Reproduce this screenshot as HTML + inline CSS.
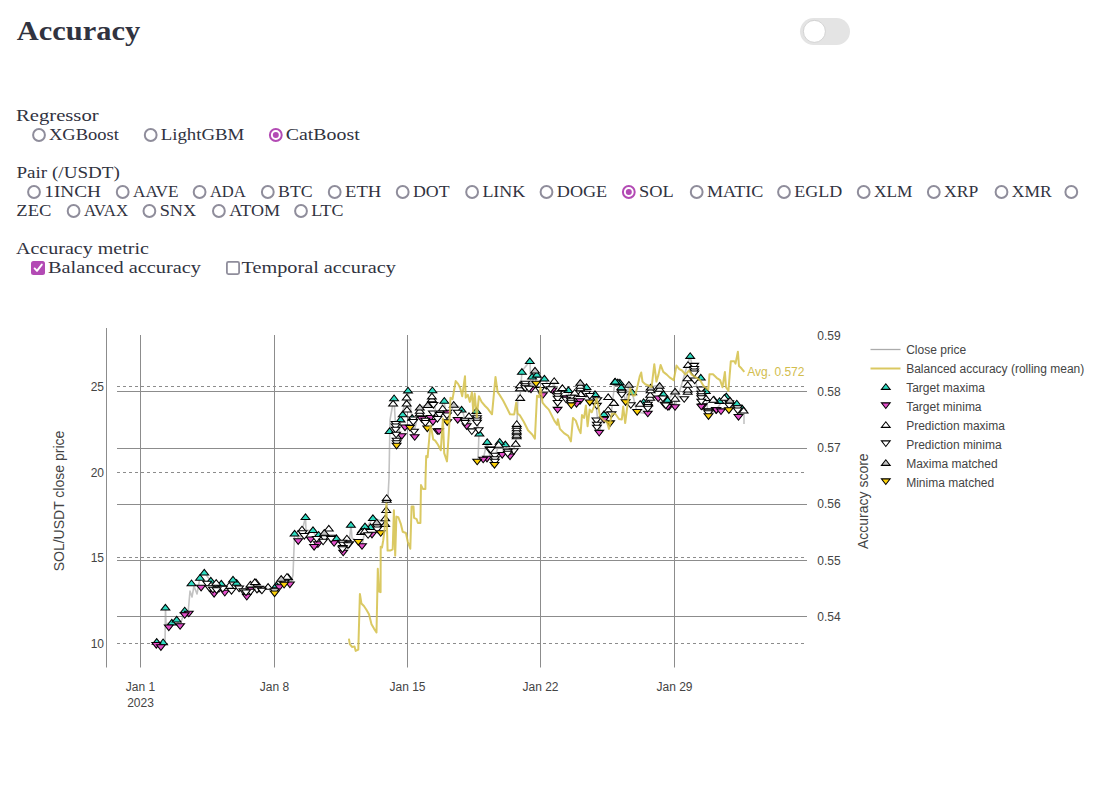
<!DOCTYPE html>
<html><head><meta charset="utf-8"><title>Accuracy</title>
<style>html,body{margin:0;padding:0;background:#fff;width:1101px;height:794px;overflow:hidden}svg{display:block}</style>
</head><body>
<svg width="1101" height="794" viewBox="0 0 1101 794">
<rect width="1101" height="794" fill="#fff"/>
<text x="16.8" y="40.4" font-family='"Liberation Serif", serif' font-size="27" font-weight="bold" fill="rgb(49,51,63)" textLength="123.30" lengthAdjust="spacingAndGlyphs">Accuracy</text>
<rect x="800" y="18" width="50" height="27" rx="13.5" fill="#e4e4e4"/>
<circle cx="814.4" cy="31.4" r="11" fill="#fff" stroke="#c9c9c9" stroke-width="0.8"/>
<text x="16" y="120.7" font-family='"Liberation Serif", serif' font-size="17" font-weight="normal" fill="rgb(49,51,63)" textLength="82.58" lengthAdjust="spacingAndGlyphs">Regressor</text>
<circle cx="39" cy="135" r="5.9" fill="#fff" stroke="#8f8d9b" stroke-width="2"/>
<text x="49" y="139.6" font-family='"Liberation Serif", serif' font-size="17" font-weight="normal" fill="rgb(49,51,63)" textLength="69.84" lengthAdjust="spacingAndGlyphs">XGBoost</text>
<circle cx="150.7" cy="135" r="5.9" fill="#fff" stroke="#8f8d9b" stroke-width="2"/>
<text x="160.7" y="139.6" font-family='"Liberation Serif", serif' font-size="17" font-weight="normal" fill="rgb(49,51,63)" textLength="83.64" lengthAdjust="spacingAndGlyphs">LightGBM</text>
<circle cx="275.8" cy="135" r="5.9" fill="#fff" stroke="#b34ab4" stroke-width="2"/>
<circle cx="275.8" cy="135" r="3" fill="#b34ab4"/>
<text x="285.8" y="139.6" font-family='"Liberation Serif", serif' font-size="17" font-weight="normal" fill="rgb(49,51,63)" textLength="73.88" lengthAdjust="spacingAndGlyphs">CatBoost</text>
<text x="16.5" y="177.7" font-family='"Liberation Serif", serif' font-size="17" font-weight="normal" fill="rgb(49,51,63)" textLength="103.27" lengthAdjust="spacingAndGlyphs">Pair (/USDT)</text>
<circle cx="34" cy="192" r="5.9" fill="#fff" stroke="#8f8d9b" stroke-width="2"/>
<text x="44.3" y="196.9" font-family='"Liberation Serif", serif' font-size="17" font-weight="normal" fill="rgb(49,51,63)" textLength="56.70" lengthAdjust="spacingAndGlyphs">1INCH</text>
<circle cx="122.7" cy="192" r="5.9" fill="#fff" stroke="#8f8d9b" stroke-width="2"/>
<text x="133.0" y="196.9" font-family='"Liberation Serif", serif' font-size="17" font-weight="normal" fill="rgb(49,51,63)" textLength="45.55" lengthAdjust="spacingAndGlyphs">AAVE</text>
<circle cx="199.6" cy="192" r="5.9" fill="#fff" stroke="#8f8d9b" stroke-width="2"/>
<text x="209.9" y="196.9" font-family='"Liberation Serif", serif' font-size="17" font-weight="normal" fill="rgb(49,51,63)" textLength="35.94" lengthAdjust="spacingAndGlyphs">ADA</text>
<circle cx="267.8" cy="192" r="5.9" fill="#fff" stroke="#8f8d9b" stroke-width="2"/>
<text x="278.1" y="196.9" font-family='"Liberation Serif", serif' font-size="17" font-weight="normal" fill="rgb(49,51,63)" textLength="34.67" lengthAdjust="spacingAndGlyphs">BTC</text>
<circle cx="334.7" cy="192" r="5.9" fill="#fff" stroke="#8f8d9b" stroke-width="2"/>
<text x="345.0" y="196.9" font-family='"Liberation Serif", serif' font-size="17" font-weight="normal" fill="rgb(49,51,63)" textLength="36.31" lengthAdjust="spacingAndGlyphs">ETH</text>
<circle cx="402.7" cy="192" r="5.9" fill="#fff" stroke="#8f8d9b" stroke-width="2"/>
<text x="413.0" y="196.9" font-family='"Liberation Serif", serif' font-size="17" font-weight="normal" fill="rgb(49,51,63)" textLength="36.62" lengthAdjust="spacingAndGlyphs">DOT</text>
<circle cx="472.1" cy="192" r="5.9" fill="#fff" stroke="#8f8d9b" stroke-width="2"/>
<text x="482.40000000000003" y="196.9" font-family='"Liberation Serif", serif' font-size="17" font-weight="normal" fill="rgb(49,51,63)" textLength="42.91" lengthAdjust="spacingAndGlyphs">LINK</text>
<circle cx="546.5" cy="192" r="5.9" fill="#fff" stroke="#8f8d9b" stroke-width="2"/>
<text x="556.8" y="196.9" font-family='"Liberation Serif", serif' font-size="17" font-weight="normal" fill="rgb(49,51,63)" textLength="50.41" lengthAdjust="spacingAndGlyphs">DOGE</text>
<circle cx="628.8" cy="192" r="5.9" fill="#fff" stroke="#b34ab4" stroke-width="2"/>
<circle cx="628.8" cy="192" r="3" fill="#b34ab4"/>
<text x="639.0999999999999" y="196.9" font-family='"Liberation Serif", serif' font-size="17" font-weight="normal" fill="rgb(49,51,63)" textLength="34.70" lengthAdjust="spacingAndGlyphs">SOL</text>
<circle cx="696.7" cy="192" r="5.9" fill="#fff" stroke="#8f8d9b" stroke-width="2"/>
<text x="707.0" y="196.9" font-family='"Liberation Serif", serif' font-size="17" font-weight="normal" fill="rgb(49,51,63)" textLength="56.30" lengthAdjust="spacingAndGlyphs">MATIC</text>
<circle cx="784" cy="192" r="5.9" fill="#fff" stroke="#8f8d9b" stroke-width="2"/>
<text x="794.3" y="196.9" font-family='"Liberation Serif", serif' font-size="17" font-weight="normal" fill="rgb(49,51,63)" textLength="47.92" lengthAdjust="spacingAndGlyphs">EGLD</text>
<circle cx="863.7" cy="192" r="5.9" fill="#fff" stroke="#8f8d9b" stroke-width="2"/>
<text x="874.0" y="196.9" font-family='"Liberation Serif", serif' font-size="17" font-weight="normal" fill="rgb(49,51,63)" textLength="38.41" lengthAdjust="spacingAndGlyphs">XLM</text>
<circle cx="933.8" cy="192" r="5.9" fill="#fff" stroke="#8f8d9b" stroke-width="2"/>
<text x="944.0999999999999" y="196.9" font-family='"Liberation Serif", serif' font-size="17" font-weight="normal" fill="rgb(49,51,63)" textLength="34.20" lengthAdjust="spacingAndGlyphs">XRP</text>
<circle cx="1001.5" cy="192" r="5.9" fill="#fff" stroke="#8f8d9b" stroke-width="2"/>
<text x="1011.8" y="196.9" font-family='"Liberation Serif", serif' font-size="17" font-weight="normal" fill="rgb(49,51,63)" textLength="39.83" lengthAdjust="spacingAndGlyphs">XMR</text>
<circle cx="1071.3" cy="192" r="5.9" fill="#fff" stroke="#8f8d9b" stroke-width="2"/>
<text x="16.3" y="215.7" font-family='"Liberation Serif", serif' font-size="17" font-weight="normal" fill="rgb(49,51,63)" textLength="35.05" lengthAdjust="spacingAndGlyphs">ZEC</text>
<circle cx="73.6" cy="211" r="5.9" fill="#fff" stroke="#8f8d9b" stroke-width="2"/>
<text x="83.89999999999999" y="215.7" font-family='"Liberation Serif", serif' font-size="17" font-weight="normal" fill="rgb(49,51,63)" textLength="44.17" lengthAdjust="spacingAndGlyphs">AVAX</text>
<circle cx="149.4" cy="211" r="5.9" fill="#fff" stroke="#8f8d9b" stroke-width="2"/>
<text x="159.70000000000002" y="215.7" font-family='"Liberation Serif", serif' font-size="17" font-weight="normal" fill="rgb(49,51,63)" textLength="36.36" lengthAdjust="spacingAndGlyphs">SNX</text>
<circle cx="218.9" cy="211" r="5.9" fill="#fff" stroke="#8f8d9b" stroke-width="2"/>
<text x="229.20000000000002" y="215.7" font-family='"Liberation Serif", serif' font-size="17" font-weight="normal" fill="rgb(49,51,63)" textLength="50.86" lengthAdjust="spacingAndGlyphs">ATOM</text>
<circle cx="301" cy="211" r="5.9" fill="#fff" stroke="#8f8d9b" stroke-width="2"/>
<text x="311.3" y="215.7" font-family='"Liberation Serif", serif' font-size="17" font-weight="normal" fill="rgb(49,51,63)" textLength="32.23" lengthAdjust="spacingAndGlyphs">LTC</text>
<text x="16" y="253.9" font-family='"Liberation Serif", serif' font-size="17" font-weight="normal" fill="rgb(49,51,63)" textLength="132.86" lengthAdjust="spacingAndGlyphs">Accuracy metric</text>
<rect x="31" y="261" width="14" height="14" rx="2.5" fill="#b34ab4"/>
<path d="M34.6,268.4 L37,270.9 L41.8,264.6" fill="none" stroke="#fff" stroke-width="1.9" stroke-linecap="round" stroke-linejoin="round"/>
<text x="48" y="272.7" font-family='"Liberation Serif", serif' font-size="17" font-weight="normal" fill="rgb(49,51,63)" textLength="152.97" lengthAdjust="spacingAndGlyphs">Balanced accuracy</text>
<rect x="226.9" y="261.9" width="12.2" height="12.2" rx="1.5" fill="#fff" stroke="#8f8d9b" stroke-width="1.8"/>
<text x="241.5" y="272.7" font-family='"Liberation Serif", serif' font-size="17" font-weight="normal" fill="rgb(49,51,63)" textLength="154.30" lengthAdjust="spacingAndGlyphs">Temporal accuracy</text>
<g shape-rendering="auto">
<line x1="117" y1="391.5" x2="807" y2="391.5" stroke="#8c8c8c" stroke-width="1"/>
<line x1="117" y1="448.5" x2="807" y2="448.5" stroke="#8c8c8c" stroke-width="1"/>
<line x1="117" y1="504.5" x2="807" y2="504.5" stroke="#8c8c8c" stroke-width="1"/>
<line x1="117" y1="560.5" x2="807" y2="560.5" stroke="#8c8c8c" stroke-width="1"/>
<line x1="117" y1="616.5" x2="807" y2="616.5" stroke="#8c8c8c" stroke-width="1"/>
<line x1="117" y1="386.5" x2="807" y2="386.5" stroke="#8c8c8c" stroke-width="1" stroke-dasharray="3,3"/>
<line x1="117" y1="472.5" x2="807" y2="472.5" stroke="#8c8c8c" stroke-width="1" stroke-dasharray="3,3"/>
<line x1="117" y1="557.5" x2="807" y2="557.5" stroke="#8c8c8c" stroke-width="1" stroke-dasharray="3,3"/>
<line x1="117" y1="643.5" x2="807" y2="643.5" stroke="#8c8c8c" stroke-width="1" stroke-dasharray="3,3"/>
<line x1="140.5" y1="335" x2="140.5" y2="667.5" stroke="#8c8c8c" stroke-width="1"/>
<line x1="274.5" y1="335" x2="274.5" y2="667.5" stroke="#8c8c8c" stroke-width="1"/>
<line x1="407.5" y1="335" x2="407.5" y2="667.5" stroke="#8c8c8c" stroke-width="1"/>
<line x1="540.5" y1="335" x2="540.5" y2="667.5" stroke="#8c8c8c" stroke-width="1"/>
<line x1="674.5" y1="335" x2="674.5" y2="667.5" stroke="#8c8c8c" stroke-width="1"/>
<line x1="106.5" y1="328" x2="106.5" y2="667.5" stroke="#8c8c8c" stroke-width="1"/>
<text x="104" y="390.8" font-family='"Liberation Sans", sans-serif' font-size="12" fill="#444" text-anchor="end">25</text>
<text x="104" y="476.8" font-family='"Liberation Sans", sans-serif' font-size="12" fill="#444" text-anchor="end">20</text>
<text x="104" y="561.8" font-family='"Liberation Sans", sans-serif' font-size="12" fill="#444" text-anchor="end">15</text>
<text x="104" y="647.8" font-family='"Liberation Sans", sans-serif' font-size="12" fill="#444" text-anchor="end">10</text>
<text x="817.3" y="339.5" font-family='"Liberation Sans", sans-serif' font-size="12" fill="#444" text-anchor="start">0.59</text>
<text x="817.3" y="395.7" font-family='"Liberation Sans", sans-serif' font-size="12" fill="#444" text-anchor="start">0.58</text>
<text x="817.3" y="452.0" font-family='"Liberation Sans", sans-serif' font-size="12" fill="#444" text-anchor="start">0.57</text>
<text x="817.3" y="508.2" font-family='"Liberation Sans", sans-serif' font-size="12" fill="#444" text-anchor="start">0.56</text>
<text x="817.3" y="564.5" font-family='"Liberation Sans", sans-serif' font-size="12" fill="#444" text-anchor="start">0.55</text>
<text x="817.3" y="620.7" font-family='"Liberation Sans", sans-serif' font-size="12" fill="#444" text-anchor="start">0.54</text>
<text x="140.5" y="691.2" font-family='"Liberation Sans", sans-serif' font-size="12" fill="#444" text-anchor="middle">Jan 1</text>
<text x="274.5" y="691.2" font-family='"Liberation Sans", sans-serif' font-size="12" fill="#444" text-anchor="middle">Jan 8</text>
<text x="407.5" y="691.2" font-family='"Liberation Sans", sans-serif' font-size="12" fill="#444" text-anchor="middle">Jan 15</text>
<text x="540.5" y="691.2" font-family='"Liberation Sans", sans-serif' font-size="12" fill="#444" text-anchor="middle">Jan 22</text>
<text x="674.5" y="691.2" font-family='"Liberation Sans", sans-serif' font-size="12" fill="#444" text-anchor="middle">Jan 29</text>
<text x="140.5" y="706.9" font-family='"Liberation Sans", sans-serif' font-size="12" fill="#444" text-anchor="middle">2023</text>
<text transform="translate(64.2,501) rotate(-90)" font-family='"Liberation Sans", sans-serif' font-size="14" fill="#444" text-anchor="middle">SOL/USDT close price</text>
<text transform="translate(868,501.2) rotate(-90)" font-family='"Liberation Sans", sans-serif' font-size="14" fill="#444" text-anchor="middle">Accuracy score</text>
<line x1="870.5" y1="349.5" x2="900.5" y2="349.5" stroke="#ababab" stroke-width="1.3"/>
<line x1="870.5" y1="368.5" x2="900.5" y2="368.5" stroke="#dac861" stroke-width="2"/>
<text x="906.2" y="353.8" font-family='"Liberation Sans", sans-serif' font-size="12" fill="#444" text-anchor="start">Close price</text>
<text x="906.2" y="372.8" font-family='"Liberation Sans", sans-serif' font-size="12" fill="#444" text-anchor="start">Balanced accuracy (rolling mean)</text>
<text x="906.2" y="391.8" font-family='"Liberation Sans", sans-serif' font-size="12" fill="#444" text-anchor="start">Target maxima</text>
<text x="906.2" y="410.8" font-family='"Liberation Sans", sans-serif' font-size="12" fill="#444" text-anchor="start">Target minima</text>
<text x="906.2" y="429.8" font-family='"Liberation Sans", sans-serif' font-size="12" fill="#444" text-anchor="start">Prediction maxima</text>
<text x="906.2" y="448.8" font-family='"Liberation Sans", sans-serif' font-size="12" fill="#444" text-anchor="start">Prediction minima</text>
<text x="906.2" y="467.8" font-family='"Liberation Sans", sans-serif' font-size="12" fill="#444" text-anchor="start">Maxima matched</text>
<text x="906.2" y="486.8" font-family='"Liberation Sans", sans-serif' font-size="12" fill="#444" text-anchor="start">Minima matched</text>
<path transform="translate(885.8,386.6)" d="M-4.4,2.75H4.4L0,-2.85Z" fill="#2edcc2" stroke="#000" stroke-width="1.05"/>
<path transform="translate(885.8,405.6)" d="M-4.4,-2.75H4.4L0,2.85Z" fill="#e54fcb" stroke="#000" stroke-width="1.05"/>
<path transform="translate(885.8,424.6)" d="M-4.4,2.75H4.4L0,-2.85Z" fill="#fff" stroke="#000" stroke-width="1.05"/>
<path transform="translate(885.8,443.6)" d="M-4.4,-2.75H4.4L0,2.85Z" fill="#fff" stroke="#000" stroke-width="1.05"/>
<path transform="translate(885.8,462.6)" d="M-4.4,2.75H4.4L0,-2.85Z" fill="#c4c4c4" stroke="#000" stroke-width="1.05"/>
<path transform="translate(885.8,481.6)" d="M-4.4,-2.75H4.4L0,2.85Z" fill="#fcd10a" stroke="#000" stroke-width="1.05"/>
<polyline points="155,643 165,643 165.5,608 166,624 172,622 176,620 180,625 184.5,612 188,614 190,591 192,597 194,586 197,594 199,583 200,577 204,572 210,580 216,585 222,589 232,582 239,588 247,594 255,584 262,590 268,586 275,591 281,580 287,578 291,583 293,575 294.6,533 300,540 305.5,517 306,530 313,531 318,540 324,533 330,537 337,540 343,546 349,544 351,525 352,538 358,542 362,546 365,530 373,518 385,522 388,497 389,478 390,420 393,403 394,398 396,435 397,446 401,419 408,390 414,432 420,407 428,405 432,390 437,420 444,400 447,422 454,404 462,409 467,427 476,411 479,433 478,460 483,460 487,442 492,466 500,441 505,444 510,457 516,443 517,424 518,395 520,397 522,371 530,361 531,390 535,370 536,384 544,378 552,391 554,381 557,410 562,388 568,390 571,406 580,382 586,387 590,403 595,394 599,433 604,414 610,424 615,381 620,382 626,402 629,384 632,392 637,412 648,414 650,387 660,385 663,394 668,400 675,391 675,407 690,356 694,373 701,407 706,391 708,416 716,410 726,396 729,411 737,403 738,417 744,410 744,424" fill="none" stroke="#9a9a9a" stroke-opacity="0.6" stroke-width="1.6" stroke-linejoin="round"/>
<path transform="translate(163.1,641.9)" d="M-4.4,2.75H4.4L0,-2.85Z" fill="#2edcc2" stroke="#000" stroke-width="1.05"/>
<path transform="translate(156.7,641.5)" d="M-4.4,2.75H4.4L0,-2.85Z" fill="#2edcc2" stroke="#000" stroke-width="1.05"/>
<path transform="translate(171.8,622.2)" d="M-4.4,2.75H4.4L0,-2.85Z" fill="#2edcc2" stroke="#000" stroke-width="1.05"/>
<path transform="translate(176.7,619.3)" d="M-4.4,2.75H4.4L0,-2.85Z" fill="#2edcc2" stroke="#000" stroke-width="1.05"/>
<path transform="translate(184.7,610.1)" d="M-4.4,2.75H4.4L0,-2.85Z" fill="#2edcc2" stroke="#000" stroke-width="1.05"/>
<path transform="translate(165.4,607.2)" d="M-4.4,2.75H4.4L0,-2.85Z" fill="#2edcc2" stroke="#000" stroke-width="1.05"/>
<path transform="translate(276.4,585)" d="M-4.4,2.75H4.4L0,-2.85Z" fill="#2edcc2" stroke="#000" stroke-width="1.05"/>
<path transform="translate(221.3,583.3)" d="M-4.4,2.75H4.4L0,-2.85Z" fill="#2edcc2" stroke="#000" stroke-width="1.05"/>
<path transform="translate(191.5,582.9)" d="M-4.4,2.75H4.4L0,-2.85Z" fill="#2edcc2" stroke="#000" stroke-width="1.05"/>
<path transform="translate(236.6,582.5)" d="M-4.4,2.75H4.4L0,-2.85Z" fill="#2edcc2" stroke="#000" stroke-width="1.05"/>
<path transform="translate(210.8,580.3)" d="M-4.4,2.75H4.4L0,-2.85Z" fill="#2edcc2" stroke="#000" stroke-width="1.05"/>
<path transform="translate(233,579.3)" d="M-4.4,2.75H4.4L0,-2.85Z" fill="#2edcc2" stroke="#000" stroke-width="1.05"/>
<path transform="translate(200,577.4)" d="M-4.4,2.75H4.4L0,-2.85Z" fill="#2edcc2" stroke="#000" stroke-width="1.05"/>
<path transform="translate(288.2,577)" d="M-4.4,2.75H4.4L0,-2.85Z" fill="#2edcc2" stroke="#000" stroke-width="1.05"/>
<path transform="translate(204.3,572.2)" d="M-4.4,2.75H4.4L0,-2.85Z" fill="#2edcc2" stroke="#000" stroke-width="1.05"/>
<path transform="translate(336.4,537.8)" d="M-4.4,2.75H4.4L0,-2.85Z" fill="#2edcc2" stroke="#000" stroke-width="1.05"/>
<path transform="translate(318.6,534.4)" d="M-4.4,2.75H4.4L0,-2.85Z" fill="#2edcc2" stroke="#000" stroke-width="1.05"/>
<path transform="translate(294.6,533.2)" d="M-4.4,2.75H4.4L0,-2.85Z" fill="#2edcc2" stroke="#000" stroke-width="1.05"/>
<path transform="translate(362,530)" d="M-4.4,2.75H4.4L0,-2.85Z" fill="#2edcc2" stroke="#000" stroke-width="1.05"/>
<path transform="translate(313,529.8)" d="M-4.4,2.75H4.4L0,-2.85Z" fill="#2edcc2" stroke="#000" stroke-width="1.05"/>
<path transform="translate(370.6,526.8)" d="M-4.4,2.75H4.4L0,-2.85Z" fill="#2edcc2" stroke="#000" stroke-width="1.05"/>
<path transform="translate(365,526)" d="M-4.4,2.75H4.4L0,-2.85Z" fill="#2edcc2" stroke="#000" stroke-width="1.05"/>
<path transform="translate(350.9,524.5)" d="M-4.4,2.75H4.4L0,-2.85Z" fill="#2edcc2" stroke="#000" stroke-width="1.05"/>
<path transform="translate(372.9,517.8)" d="M-4.4,2.75H4.4L0,-2.85Z" fill="#2edcc2" stroke="#000" stroke-width="1.05"/>
<path transform="translate(305.5,516.8)" d="M-4.4,2.75H4.4L0,-2.85Z" fill="#2edcc2" stroke="#000" stroke-width="1.05"/>
<path transform="translate(505.3,444)" d="M-4.4,2.75H4.4L0,-2.85Z" fill="#2edcc2" stroke="#000" stroke-width="1.05"/>
<path transform="translate(487.2,441.6)" d="M-4.4,2.75H4.4L0,-2.85Z" fill="#2edcc2" stroke="#000" stroke-width="1.05"/>
<path transform="translate(499.7,441.4)" d="M-4.4,2.75H4.4L0,-2.85Z" fill="#2edcc2" stroke="#000" stroke-width="1.05"/>
<path transform="translate(479.4,433.3)" d="M-4.4,2.75H4.4L0,-2.85Z" fill="#2edcc2" stroke="#000" stroke-width="1.05"/>
<path transform="translate(389.6,430.7)" d="M-4.4,2.75H4.4L0,-2.85Z" fill="#2edcc2" stroke="#000" stroke-width="1.05"/>
<path transform="translate(400.6,419.1)" d="M-4.4,2.75H4.4L0,-2.85Z" fill="#2edcc2" stroke="#000" stroke-width="1.05"/>
<path transform="translate(412.2,417.5)" d="M-4.4,2.75H4.4L0,-2.85Z" fill="#2edcc2" stroke="#000" stroke-width="1.05"/>
<path transform="translate(402.7,414)" d="M-4.4,2.75H4.4L0,-2.85Z" fill="#2edcc2" stroke="#000" stroke-width="1.05"/>
<path transform="translate(604,413.7)" d="M-4.4,2.75H4.4L0,-2.85Z" fill="#2edcc2" stroke="#000" stroke-width="1.05"/>
<path transform="translate(476.4,410.6)" d="M-4.4,2.75H4.4L0,-2.85Z" fill="#2edcc2" stroke="#000" stroke-width="1.05"/>
<path transform="translate(461.6,409.3)" d="M-4.4,2.75H4.4L0,-2.85Z" fill="#2edcc2" stroke="#000" stroke-width="1.05"/>
<path transform="translate(741.9,407.7)" d="M-4.4,2.75H4.4L0,-2.85Z" fill="#2edcc2" stroke="#000" stroke-width="1.05"/>
<path transform="translate(736.8,403.1)" d="M-4.4,2.75H4.4L0,-2.85Z" fill="#2edcc2" stroke="#000" stroke-width="1.05"/>
<path transform="translate(643.6,401.6)" d="M-4.4,2.75H4.4L0,-2.85Z" fill="#2edcc2" stroke="#000" stroke-width="1.05"/>
<path transform="translate(719.5,400.6)" d="M-4.4,2.75H4.4L0,-2.85Z" fill="#2edcc2" stroke="#000" stroke-width="1.05"/>
<path transform="translate(444.3,400.4)" d="M-4.4,2.75H4.4L0,-2.85Z" fill="#2edcc2" stroke="#000" stroke-width="1.05"/>
<path transform="translate(667.5,400.2)" d="M-4.4,2.75H4.4L0,-2.85Z" fill="#2edcc2" stroke="#000" stroke-width="1.05"/>
<path transform="translate(667.6,399.7)" d="M-4.4,2.75H4.4L0,-2.85Z" fill="#2edcc2" stroke="#000" stroke-width="1.05"/>
<path transform="translate(713.9,399.2)" d="M-4.4,2.75H4.4L0,-2.85Z" fill="#2edcc2" stroke="#000" stroke-width="1.05"/>
<path transform="translate(394.1,397.9)" d="M-4.4,2.75H4.4L0,-2.85Z" fill="#2edcc2" stroke="#000" stroke-width="1.05"/>
<path transform="translate(726.3,396)" d="M-4.4,2.75H4.4L0,-2.85Z" fill="#2edcc2" stroke="#000" stroke-width="1.05"/>
<path transform="translate(662.9,394)" d="M-4.4,2.75H4.4L0,-2.85Z" fill="#2edcc2" stroke="#000" stroke-width="1.05"/>
<path transform="translate(595,393.8)" d="M-4.4,2.75H4.4L0,-2.85Z" fill="#2edcc2" stroke="#000" stroke-width="1.05"/>
<path transform="translate(663.5,393.8)" d="M-4.4,2.75H4.4L0,-2.85Z" fill="#2edcc2" stroke="#000" stroke-width="1.05"/>
<path transform="translate(632.2,391.9)" d="M-4.4,2.75H4.4L0,-2.85Z" fill="#2edcc2" stroke="#000" stroke-width="1.05"/>
<path transform="translate(705.8,390.8)" d="M-4.4,2.75H4.4L0,-2.85Z" fill="#2edcc2" stroke="#000" stroke-width="1.05"/>
<path transform="translate(408,390.1)" d="M-4.4,2.75H4.4L0,-2.85Z" fill="#2edcc2" stroke="#000" stroke-width="1.05"/>
<path transform="translate(432.4,389.9)" d="M-4.4,2.75H4.4L0,-2.85Z" fill="#2edcc2" stroke="#000" stroke-width="1.05"/>
<path transform="translate(568.4,389.7)" d="M-4.4,2.75H4.4L0,-2.85Z" fill="#2edcc2" stroke="#000" stroke-width="1.05"/>
<path transform="translate(621.3,386.9)" d="M-4.4,2.75H4.4L0,-2.85Z" fill="#2edcc2" stroke="#000" stroke-width="1.05"/>
<path transform="translate(586.5,386.7)" d="M-4.4,2.75H4.4L0,-2.85Z" fill="#2edcc2" stroke="#000" stroke-width="1.05"/>
<path transform="translate(619.9,382.2)" d="M-4.4,2.75H4.4L0,-2.85Z" fill="#2edcc2" stroke="#000" stroke-width="1.05"/>
<path transform="translate(617.8,382)" d="M-4.4,2.75H4.4L0,-2.85Z" fill="#2edcc2" stroke="#000" stroke-width="1.05"/>
<path transform="translate(614.8,381.5)" d="M-4.4,2.75H4.4L0,-2.85Z" fill="#2edcc2" stroke="#000" stroke-width="1.05"/>
<path transform="translate(615.2,381.3)" d="M-4.4,2.75H4.4L0,-2.85Z" fill="#2edcc2" stroke="#000" stroke-width="1.05"/>
<path transform="translate(544.4,378.3)" d="M-4.4,2.75H4.4L0,-2.85Z" fill="#2edcc2" stroke="#000" stroke-width="1.05"/>
<path transform="translate(700.8,377.2)" d="M-4.4,2.75H4.4L0,-2.85Z" fill="#2edcc2" stroke="#000" stroke-width="1.05"/>
<path transform="translate(532.1,376.3)" d="M-4.4,2.75H4.4L0,-2.85Z" fill="#2edcc2" stroke="#000" stroke-width="1.05"/>
<path transform="translate(536.9,374.4)" d="M-4.4,2.75H4.4L0,-2.85Z" fill="#2edcc2" stroke="#000" stroke-width="1.05"/>
<path transform="translate(521.9,371.5)" d="M-4.4,2.75H4.4L0,-2.85Z" fill="#2edcc2" stroke="#000" stroke-width="1.05"/>
<path transform="translate(529.8,360.8)" d="M-4.4,2.75H4.4L0,-2.85Z" fill="#2edcc2" stroke="#000" stroke-width="1.05"/>
<path transform="translate(690.2,355.6)" d="M-4.4,2.75H4.4L0,-2.85Z" fill="#2edcc2" stroke="#000" stroke-width="1.05"/>
<path transform="translate(531,389.7)" d="M-4.4,-2.75H4.4L0,2.85Z" fill="#e54fcb" stroke="#000" stroke-width="1.05"/>
<path transform="translate(552.5,390.8)" d="M-4.4,-2.75H4.4L0,2.85Z" fill="#e54fcb" stroke="#000" stroke-width="1.05"/>
<path transform="translate(542.9,395.4)" d="M-4.4,-2.75H4.4L0,2.85Z" fill="#e54fcb" stroke="#000" stroke-width="1.05"/>
<path transform="translate(566.7,398.8)" d="M-4.4,-2.75H4.4L0,2.85Z" fill="#e54fcb" stroke="#000" stroke-width="1.05"/>
<path transform="translate(566.6,398.8)" d="M-4.4,-2.75H4.4L0,2.85Z" fill="#e54fcb" stroke="#000" stroke-width="1.05"/>
<path transform="translate(658.2,398.8)" d="M-4.4,-2.75H4.4L0,2.85Z" fill="#e54fcb" stroke="#000" stroke-width="1.05"/>
<path transform="translate(580,401.4)" d="M-4.4,-2.75H4.4L0,2.85Z" fill="#e54fcb" stroke="#000" stroke-width="1.05"/>
<path transform="translate(576.5,404.2)" d="M-4.4,-2.75H4.4L0,2.85Z" fill="#e54fcb" stroke="#000" stroke-width="1.05"/>
<path transform="translate(702.8,406.5)" d="M-4.4,-2.75H4.4L0,2.85Z" fill="#e54fcb" stroke="#000" stroke-width="1.05"/>
<path transform="translate(701.3,406.9)" d="M-4.4,-2.75H4.4L0,2.85Z" fill="#e54fcb" stroke="#000" stroke-width="1.05"/>
<path transform="translate(669.1,407)" d="M-4.4,-2.75H4.4L0,2.85Z" fill="#e54fcb" stroke="#000" stroke-width="1.05"/>
<path transform="translate(667.8,407.3)" d="M-4.4,-2.75H4.4L0,2.85Z" fill="#e54fcb" stroke="#000" stroke-width="1.05"/>
<path transform="translate(675.1,407.4)" d="M-4.4,-2.75H4.4L0,2.85Z" fill="#e54fcb" stroke="#000" stroke-width="1.05"/>
<path transform="translate(557.6,410.1)" d="M-4.4,-2.75H4.4L0,2.85Z" fill="#e54fcb" stroke="#000" stroke-width="1.05"/>
<path transform="translate(715.9,410.2)" d="M-4.4,-2.75H4.4L0,2.85Z" fill="#e54fcb" stroke="#000" stroke-width="1.05"/>
<path transform="translate(716.4,410.5)" d="M-4.4,-2.75H4.4L0,2.85Z" fill="#e54fcb" stroke="#000" stroke-width="1.05"/>
<path transform="translate(721,411.6)" d="M-4.4,-2.75H4.4L0,2.85Z" fill="#e54fcb" stroke="#000" stroke-width="1.05"/>
<path transform="translate(447,413)" d="M-4.4,-2.75H4.4L0,2.85Z" fill="#e54fcb" stroke="#000" stroke-width="1.05"/>
<path transform="translate(647.8,413.9)" d="M-4.4,-2.75H4.4L0,2.85Z" fill="#e54fcb" stroke="#000" stroke-width="1.05"/>
<path transform="translate(738.5,417.3)" d="M-4.4,-2.75H4.4L0,2.85Z" fill="#e54fcb" stroke="#000" stroke-width="1.05"/>
<path transform="translate(430.4,418.3)" d="M-4.4,-2.75H4.4L0,2.85Z" fill="#e54fcb" stroke="#000" stroke-width="1.05"/>
<path transform="translate(421.8,419.3)" d="M-4.4,-2.75H4.4L0,2.85Z" fill="#e54fcb" stroke="#000" stroke-width="1.05"/>
<path transform="translate(604,420)" d="M-4.4,-2.75H4.4L0,2.85Z" fill="#e54fcb" stroke="#000" stroke-width="1.05"/>
<path transform="translate(457.7,420.2)" d="M-4.4,-2.75H4.4L0,2.85Z" fill="#e54fcb" stroke="#000" stroke-width="1.05"/>
<path transform="translate(432.9,422.3)" d="M-4.4,-2.75H4.4L0,2.85Z" fill="#e54fcb" stroke="#000" stroke-width="1.05"/>
<path transform="translate(466.7,426.5)" d="M-4.4,-2.75H4.4L0,2.85Z" fill="#e54fcb" stroke="#000" stroke-width="1.05"/>
<path transform="translate(405,427.8)" d="M-4.4,-2.75H4.4L0,2.85Z" fill="#e54fcb" stroke="#000" stroke-width="1.05"/>
<path transform="translate(437.4,431.4)" d="M-4.4,-2.75H4.4L0,2.85Z" fill="#e54fcb" stroke="#000" stroke-width="1.05"/>
<path transform="translate(439,431.6)" d="M-4.4,-2.75H4.4L0,2.85Z" fill="#e54fcb" stroke="#000" stroke-width="1.05"/>
<path transform="translate(599.2,433.1)" d="M-4.4,-2.75H4.4L0,2.85Z" fill="#e54fcb" stroke="#000" stroke-width="1.05"/>
<path transform="translate(401.7,436.4)" d="M-4.4,-2.75H4.4L0,2.85Z" fill="#e54fcb" stroke="#000" stroke-width="1.05"/>
<path transform="translate(414.7,437.4)" d="M-4.4,-2.75H4.4L0,2.85Z" fill="#e54fcb" stroke="#000" stroke-width="1.05"/>
<path transform="translate(502.2,455.3)" d="M-4.4,-2.75H4.4L0,2.85Z" fill="#e54fcb" stroke="#000" stroke-width="1.05"/>
<path transform="translate(510,456.7)" d="M-4.4,-2.75H4.4L0,2.85Z" fill="#e54fcb" stroke="#000" stroke-width="1.05"/>
<path transform="translate(487,459)" d="M-4.4,-2.75H4.4L0,2.85Z" fill="#e54fcb" stroke="#000" stroke-width="1.05"/>
<path transform="translate(483.2,459.9)" d="M-4.4,-2.75H4.4L0,2.85Z" fill="#e54fcb" stroke="#000" stroke-width="1.05"/>
<path transform="translate(372,535)" d="M-4.4,-2.75H4.4L0,2.85Z" fill="#e54fcb" stroke="#000" stroke-width="1.05"/>
<path transform="translate(310.7,539.8)" d="M-4.4,-2.75H4.4L0,2.85Z" fill="#e54fcb" stroke="#000" stroke-width="1.05"/>
<path transform="translate(298.2,541.5)" d="M-4.4,-2.75H4.4L0,2.85Z" fill="#e54fcb" stroke="#000" stroke-width="1.05"/>
<path transform="translate(334.1,543.4)" d="M-4.4,-2.75H4.4L0,2.85Z" fill="#e54fcb" stroke="#000" stroke-width="1.05"/>
<path transform="translate(317.9,544.6)" d="M-4.4,-2.75H4.4L0,2.85Z" fill="#e54fcb" stroke="#000" stroke-width="1.05"/>
<path transform="translate(362,546.4)" d="M-4.4,-2.75H4.4L0,2.85Z" fill="#e54fcb" stroke="#000" stroke-width="1.05"/>
<path transform="translate(314.1,547.2)" d="M-4.4,-2.75H4.4L0,2.85Z" fill="#e54fcb" stroke="#000" stroke-width="1.05"/>
<path transform="translate(343.2,552.9)" d="M-4.4,-2.75H4.4L0,2.85Z" fill="#e54fcb" stroke="#000" stroke-width="1.05"/>
<path transform="translate(289.9,584.7)" d="M-4.4,-2.75H4.4L0,2.85Z" fill="#e54fcb" stroke="#000" stroke-width="1.05"/>
<path transform="translate(279.3,587.6)" d="M-4.4,-2.75H4.4L0,2.85Z" fill="#e54fcb" stroke="#000" stroke-width="1.05"/>
<path transform="translate(201.1,588)" d="M-4.4,-2.75H4.4L0,2.85Z" fill="#e54fcb" stroke="#000" stroke-width="1.05"/>
<path transform="translate(251.2,589.9)" d="M-4.4,-2.75H4.4L0,2.85Z" fill="#e54fcb" stroke="#000" stroke-width="1.05"/>
<path transform="translate(224.8,593.1)" d="M-4.4,-2.75H4.4L0,2.85Z" fill="#e54fcb" stroke="#000" stroke-width="1.05"/>
<path transform="translate(214.1,594.2)" d="M-4.4,-2.75H4.4L0,2.85Z" fill="#e54fcb" stroke="#000" stroke-width="1.05"/>
<path transform="translate(246.8,597.1)" d="M-4.4,-2.75H4.4L0,2.85Z" fill="#e54fcb" stroke="#000" stroke-width="1.05"/>
<path transform="translate(188.8,613.9)" d="M-4.4,-2.75H4.4L0,2.85Z" fill="#e54fcb" stroke="#000" stroke-width="1.05"/>
<path transform="translate(184.7,615.4)" d="M-4.4,-2.75H4.4L0,2.85Z" fill="#e54fcb" stroke="#000" stroke-width="1.05"/>
<path transform="translate(180.1,626.4)" d="M-4.4,-2.75H4.4L0,2.85Z" fill="#e54fcb" stroke="#000" stroke-width="1.05"/>
<path transform="translate(168.8,627.7)" d="M-4.4,-2.75H4.4L0,2.85Z" fill="#e54fcb" stroke="#000" stroke-width="1.05"/>
<path transform="translate(156.3,645.3)" d="M-4.4,-2.75H4.4L0,2.85Z" fill="#e54fcb" stroke="#000" stroke-width="1.05"/>
<path transform="translate(160.9,647.5)" d="M-4.4,-2.75H4.4L0,2.85Z" fill="#e54fcb" stroke="#000" stroke-width="1.05"/>
<path transform="translate(268.1,586.5)" d="M-4.4,2.75H4.4L0,-2.85Z" fill="#fff" stroke="#000" stroke-width="1.05"/>
<path transform="translate(229.3,585.4)" d="M-4.4,2.75H4.4L0,-2.85Z" fill="#fff" stroke="#000" stroke-width="1.05"/>
<path transform="translate(250.4,584.3)" d="M-4.4,2.75H4.4L0,-2.85Z" fill="#fff" stroke="#000" stroke-width="1.05"/>
<path transform="translate(216.2,582.5)" d="M-4.4,2.75H4.4L0,-2.85Z" fill="#fff" stroke="#000" stroke-width="1.05"/>
<path transform="translate(256,582)" d="M-4.4,2.75H4.4L0,-2.85Z" fill="#fff" stroke="#000" stroke-width="1.05"/>
<path transform="translate(254.8,581.8)" d="M-4.4,2.75H4.4L0,-2.85Z" fill="#fff" stroke="#000" stroke-width="1.05"/>
<path transform="translate(287,576.4)" d="M-4.4,2.75H4.4L0,-2.85Z" fill="#fff" stroke="#000" stroke-width="1.05"/>
<path transform="translate(346.9,538.1)" d="M-4.4,2.75H4.4L0,-2.85Z" fill="#fff" stroke="#000" stroke-width="1.05"/>
<path transform="translate(361.3,531.7)" d="M-4.4,2.75H4.4L0,-2.85Z" fill="#fff" stroke="#000" stroke-width="1.05"/>
<path transform="translate(364.6,530.9)" d="M-4.4,2.75H4.4L0,-2.85Z" fill="#fff" stroke="#000" stroke-width="1.05"/>
<path transform="translate(302,529.1)" d="M-4.4,2.75H4.4L0,-2.85Z" fill="#fff" stroke="#000" stroke-width="1.05"/>
<path transform="translate(328.8,528.3)" d="M-4.4,2.75H4.4L0,-2.85Z" fill="#fff" stroke="#000" stroke-width="1.05"/>
<path transform="translate(385.2,518.1)" d="M-4.4,2.75H4.4L0,-2.85Z" fill="#fff" stroke="#000" stroke-width="1.05"/>
<path transform="translate(386.2,509.7)" d="M-4.4,2.75H4.4L0,-2.85Z" fill="#fff" stroke="#000" stroke-width="1.05"/>
<path transform="translate(386.7,499.5)" d="M-4.4,2.75H4.4L0,-2.85Z" fill="#fff" stroke="#000" stroke-width="1.05"/>
<path transform="translate(386.7,497.6)" d="M-4.4,2.75H4.4L0,-2.85Z" fill="#fff" stroke="#000" stroke-width="1.05"/>
<path transform="translate(498.7,444.4)" d="M-4.4,2.75H4.4L0,-2.85Z" fill="#fff" stroke="#000" stroke-width="1.05"/>
<path transform="translate(515.7,443.5)" d="M-4.4,2.75H4.4L0,-2.85Z" fill="#fff" stroke="#000" stroke-width="1.05"/>
<path transform="translate(516.7,436)" d="M-4.4,2.75H4.4L0,-2.85Z" fill="#fff" stroke="#000" stroke-width="1.05"/>
<path transform="translate(516.7,434.5)" d="M-4.4,2.75H4.4L0,-2.85Z" fill="#fff" stroke="#000" stroke-width="1.05"/>
<path transform="translate(516.7,432)" d="M-4.4,2.75H4.4L0,-2.85Z" fill="#fff" stroke="#000" stroke-width="1.05"/>
<path transform="translate(516.7,430.5)" d="M-4.4,2.75H4.4L0,-2.85Z" fill="#fff" stroke="#000" stroke-width="1.05"/>
<path transform="translate(516.7,428)" d="M-4.4,2.75H4.4L0,-2.85Z" fill="#fff" stroke="#000" stroke-width="1.05"/>
<path transform="translate(516.7,425.5)" d="M-4.4,2.75H4.4L0,-2.85Z" fill="#fff" stroke="#000" stroke-width="1.05"/>
<path transform="translate(516.7,423.6)" d="M-4.4,2.75H4.4L0,-2.85Z" fill="#fff" stroke="#000" stroke-width="1.05"/>
<path transform="translate(469,415.7)" d="M-4.4,2.75H4.4L0,-2.85Z" fill="#fff" stroke="#000" stroke-width="1.05"/>
<path transform="translate(419.8,413)" d="M-4.4,2.75H4.4L0,-2.85Z" fill="#fff" stroke="#000" stroke-width="1.05"/>
<path transform="translate(419.8,410.5)" d="M-4.4,2.75H4.4L0,-2.85Z" fill="#fff" stroke="#000" stroke-width="1.05"/>
<path transform="translate(743.6,410.2)" d="M-4.4,2.75H4.4L0,-2.85Z" fill="#fff" stroke="#000" stroke-width="1.05"/>
<path transform="translate(608.2,409.4)" d="M-4.4,2.75H4.4L0,-2.85Z" fill="#fff" stroke="#000" stroke-width="1.05"/>
<path transform="translate(407,409.2)" d="M-4.4,2.75H4.4L0,-2.85Z" fill="#fff" stroke="#000" stroke-width="1.05"/>
<path transform="translate(442.7,408.1)" d="M-4.4,2.75H4.4L0,-2.85Z" fill="#fff" stroke="#000" stroke-width="1.05"/>
<path transform="translate(640.2,403.5)" d="M-4.4,2.75H4.4L0,-2.85Z" fill="#fff" stroke="#000" stroke-width="1.05"/>
<path transform="translate(393.1,403.2)" d="M-4.4,2.75H4.4L0,-2.85Z" fill="#fff" stroke="#000" stroke-width="1.05"/>
<path transform="translate(406.7,403.2)" d="M-4.4,2.75H4.4L0,-2.85Z" fill="#fff" stroke="#000" stroke-width="1.05"/>
<path transform="translate(648.3,403)" d="M-4.4,2.75H4.4L0,-2.85Z" fill="#fff" stroke="#000" stroke-width="1.05"/>
<path transform="translate(613.9,402.8)" d="M-4.4,2.75H4.4L0,-2.85Z" fill="#fff" stroke="#000" stroke-width="1.05"/>
<path transform="translate(613.8,402.5)" d="M-4.4,2.75H4.4L0,-2.85Z" fill="#fff" stroke="#000" stroke-width="1.05"/>
<path transform="translate(431.9,401.5)" d="M-4.4,2.75H4.4L0,-2.85Z" fill="#fff" stroke="#000" stroke-width="1.05"/>
<path transform="translate(713.3,399.4)" d="M-4.4,2.75H4.4L0,-2.85Z" fill="#fff" stroke="#000" stroke-width="1.05"/>
<path transform="translate(431.9,399)" d="M-4.4,2.75H4.4L0,-2.85Z" fill="#fff" stroke="#000" stroke-width="1.05"/>
<path transform="translate(675.1,398.4)" d="M-4.4,2.75H4.4L0,-2.85Z" fill="#fff" stroke="#000" stroke-width="1.05"/>
<path transform="translate(705.7,397.7)" d="M-4.4,2.75H4.4L0,-2.85Z" fill="#fff" stroke="#000" stroke-width="1.05"/>
<path transform="translate(520.2,397.6)" d="M-4.4,2.75H4.4L0,-2.85Z" fill="#fff" stroke="#000" stroke-width="1.05"/>
<path transform="translate(724.4,397.5)" d="M-4.4,2.75H4.4L0,-2.85Z" fill="#fff" stroke="#000" stroke-width="1.05"/>
<path transform="translate(650.2,397.5)" d="M-4.4,2.75H4.4L0,-2.85Z" fill="#fff" stroke="#000" stroke-width="1.05"/>
<path transform="translate(406.7,397.3)" d="M-4.4,2.75H4.4L0,-2.85Z" fill="#fff" stroke="#000" stroke-width="1.05"/>
<path transform="translate(608.2,396.7)" d="M-4.4,2.75H4.4L0,-2.85Z" fill="#fff" stroke="#000" stroke-width="1.05"/>
<path transform="translate(431.9,396.1)" d="M-4.4,2.75H4.4L0,-2.85Z" fill="#fff" stroke="#000" stroke-width="1.05"/>
<path transform="translate(650.2,394.5)" d="M-4.4,2.75H4.4L0,-2.85Z" fill="#fff" stroke="#000" stroke-width="1.05"/>
<path transform="translate(580.8,393.8)" d="M-4.4,2.75H4.4L0,-2.85Z" fill="#fff" stroke="#000" stroke-width="1.05"/>
<path transform="translate(574.7,392.4)" d="M-4.4,2.75H4.4L0,-2.85Z" fill="#fff" stroke="#000" stroke-width="1.05"/>
<path transform="translate(687.7,391.5)" d="M-4.4,2.75H4.4L0,-2.85Z" fill="#fff" stroke="#000" stroke-width="1.05"/>
<path transform="translate(650.6,390)" d="M-4.4,2.75H4.4L0,-2.85Z" fill="#fff" stroke="#000" stroke-width="1.05"/>
<path transform="translate(687.7,389.3)" d="M-4.4,2.75H4.4L0,-2.85Z" fill="#fff" stroke="#000" stroke-width="1.05"/>
<path transform="translate(659.6,388.5)" d="M-4.4,2.75H4.4L0,-2.85Z" fill="#fff" stroke="#000" stroke-width="1.05"/>
<path transform="translate(562.2,388.3)" d="M-4.4,2.75H4.4L0,-2.85Z" fill="#fff" stroke="#000" stroke-width="1.05"/>
<path transform="translate(520,388)" d="M-4.4,2.75H4.4L0,-2.85Z" fill="#fff" stroke="#000" stroke-width="1.05"/>
<path transform="translate(580.3,388)" d="M-4.4,2.75H4.4L0,-2.85Z" fill="#fff" stroke="#000" stroke-width="1.05"/>
<path transform="translate(562.4,387.7)" d="M-4.4,2.75H4.4L0,-2.85Z" fill="#fff" stroke="#000" stroke-width="1.05"/>
<path transform="translate(580.3,385.5)" d="M-4.4,2.75H4.4L0,-2.85Z" fill="#fff" stroke="#000" stroke-width="1.05"/>
<path transform="translate(520,385)" d="M-4.4,2.75H4.4L0,-2.85Z" fill="#fff" stroke="#000" stroke-width="1.05"/>
<path transform="translate(687.7,384.5)" d="M-4.4,2.75H4.4L0,-2.85Z" fill="#fff" stroke="#000" stroke-width="1.05"/>
<path transform="translate(554.2,380.6)" d="M-4.4,2.75H4.4L0,-2.85Z" fill="#fff" stroke="#000" stroke-width="1.05"/>
<path transform="translate(687.4,378)" d="M-4.4,2.75H4.4L0,-2.85Z" fill="#fff" stroke="#000" stroke-width="1.05"/>
<path transform="translate(688,364.6)" d="M-4.4,2.75H4.4L0,-2.85Z" fill="#fff" stroke="#000" stroke-width="1.05"/>
<path transform="translate(694.2,366.1)" d="M-4.4,-2.75H4.4L0,2.85Z" fill="#fff" stroke="#000" stroke-width="1.05"/>
<path transform="translate(694.2,369.2)" d="M-4.4,-2.75H4.4L0,2.85Z" fill="#fff" stroke="#000" stroke-width="1.05"/>
<path transform="translate(694.2,371.7)" d="M-4.4,-2.75H4.4L0,2.85Z" fill="#fff" stroke="#000" stroke-width="1.05"/>
<path transform="translate(694.2,373.7)" d="M-4.4,-2.75H4.4L0,2.85Z" fill="#fff" stroke="#000" stroke-width="1.05"/>
<path transform="translate(694.7,380.8)" d="M-4.4,-2.75H4.4L0,2.85Z" fill="#fff" stroke="#000" stroke-width="1.05"/>
<path transform="translate(525.3,384)" d="M-4.4,-2.75H4.4L0,2.85Z" fill="#fff" stroke="#000" stroke-width="1.05"/>
<path transform="translate(546.3,386.3)" d="M-4.4,-2.75H4.4L0,2.85Z" fill="#fff" stroke="#000" stroke-width="1.05"/>
<path transform="translate(525.3,386.4)" d="M-4.4,-2.75H4.4L0,2.85Z" fill="#fff" stroke="#000" stroke-width="1.05"/>
<path transform="translate(525.3,388.5)" d="M-4.4,-2.75H4.4L0,2.85Z" fill="#fff" stroke="#000" stroke-width="1.05"/>
<path transform="translate(529,389)" d="M-4.4,-2.75H4.4L0,2.85Z" fill="#fff" stroke="#000" stroke-width="1.05"/>
<path transform="translate(550.5,389.5)" d="M-4.4,-2.75H4.4L0,2.85Z" fill="#fff" stroke="#000" stroke-width="1.05"/>
<path transform="translate(701.3,389.8)" d="M-4.4,-2.75H4.4L0,2.85Z" fill="#fff" stroke="#000" stroke-width="1.05"/>
<path transform="translate(540,390.2)" d="M-4.4,-2.75H4.4L0,2.85Z" fill="#fff" stroke="#000" stroke-width="1.05"/>
<path transform="translate(621.8,393)" d="M-4.4,-2.75H4.4L0,2.85Z" fill="#fff" stroke="#000" stroke-width="1.05"/>
<path transform="translate(557.6,394)" d="M-4.4,-2.75H4.4L0,2.85Z" fill="#fff" stroke="#000" stroke-width="1.05"/>
<path transform="translate(586,394)" d="M-4.4,-2.75H4.4L0,2.85Z" fill="#fff" stroke="#000" stroke-width="1.05"/>
<path transform="translate(701.3,394)" d="M-4.4,-2.75H4.4L0,2.85Z" fill="#fff" stroke="#000" stroke-width="1.05"/>
<path transform="translate(621.8,395)" d="M-4.4,-2.75H4.4L0,2.85Z" fill="#fff" stroke="#000" stroke-width="1.05"/>
<path transform="translate(589.8,396.2)" d="M-4.4,-2.75H4.4L0,2.85Z" fill="#fff" stroke="#000" stroke-width="1.05"/>
<path transform="translate(701.3,396.4)" d="M-4.4,-2.75H4.4L0,2.85Z" fill="#fff" stroke="#000" stroke-width="1.05"/>
<path transform="translate(557.6,396.5)" d="M-4.4,-2.75H4.4L0,2.85Z" fill="#fff" stroke="#000" stroke-width="1.05"/>
<path transform="translate(570.9,398)" d="M-4.4,-2.75H4.4L0,2.85Z" fill="#fff" stroke="#000" stroke-width="1.05"/>
<path transform="translate(701.3,398.5)" d="M-4.4,-2.75H4.4L0,2.85Z" fill="#fff" stroke="#000" stroke-width="1.05"/>
<path transform="translate(662.9,398.8)" d="M-4.4,-2.75H4.4L0,2.85Z" fill="#fff" stroke="#000" stroke-width="1.05"/>
<path transform="translate(557.6,399)" d="M-4.4,-2.75H4.4L0,2.85Z" fill="#fff" stroke="#000" stroke-width="1.05"/>
<path transform="translate(684.2,399.4)" d="M-4.4,-2.75H4.4L0,2.85Z" fill="#fff" stroke="#000" stroke-width="1.05"/>
<path transform="translate(566.1,399.9)" d="M-4.4,-2.75H4.4L0,2.85Z" fill="#fff" stroke="#000" stroke-width="1.05"/>
<path transform="translate(597.3,400.4)" d="M-4.4,-2.75H4.4L0,2.85Z" fill="#fff" stroke="#000" stroke-width="1.05"/>
<path transform="translate(570.9,400.9)" d="M-4.4,-2.75H4.4L0,2.85Z" fill="#fff" stroke="#000" stroke-width="1.05"/>
<path transform="translate(701.3,401.9)" d="M-4.4,-2.75H4.4L0,2.85Z" fill="#fff" stroke="#000" stroke-width="1.05"/>
<path transform="translate(570.9,403)" d="M-4.4,-2.75H4.4L0,2.85Z" fill="#fff" stroke="#000" stroke-width="1.05"/>
<path transform="translate(557.6,403.3)" d="M-4.4,-2.75H4.4L0,2.85Z" fill="#fff" stroke="#000" stroke-width="1.05"/>
<path transform="translate(729.2,403.5)" d="M-4.4,-2.75H4.4L0,2.85Z" fill="#fff" stroke="#000" stroke-width="1.05"/>
<path transform="translate(664.5,404.9)" d="M-4.4,-2.75H4.4L0,2.85Z" fill="#fff" stroke="#000" stroke-width="1.05"/>
<path transform="translate(647.8,405)" d="M-4.4,-2.75H4.4L0,2.85Z" fill="#fff" stroke="#000" stroke-width="1.05"/>
<path transform="translate(433.4,405.2)" d="M-4.4,-2.75H4.4L0,2.85Z" fill="#fff" stroke="#000" stroke-width="1.05"/>
<path transform="translate(630.8,405.4)" d="M-4.4,-2.75H4.4L0,2.85Z" fill="#fff" stroke="#000" stroke-width="1.05"/>
<path transform="translate(665.8,405.8)" d="M-4.4,-2.75H4.4L0,2.85Z" fill="#fff" stroke="#000" stroke-width="1.05"/>
<path transform="translate(729.2,406)" d="M-4.4,-2.75H4.4L0,2.85Z" fill="#fff" stroke="#000" stroke-width="1.05"/>
<path transform="translate(596.9,406.1)" d="M-4.4,-2.75H4.4L0,2.85Z" fill="#fff" stroke="#000" stroke-width="1.05"/>
<path transform="translate(647.8,407.3)" d="M-4.4,-2.75H4.4L0,2.85Z" fill="#fff" stroke="#000" stroke-width="1.05"/>
<path transform="translate(737.7,408.5)" d="M-4.4,-2.75H4.4L0,2.85Z" fill="#fff" stroke="#000" stroke-width="1.05"/>
<path transform="translate(647.8,409)" d="M-4.4,-2.75H4.4L0,2.85Z" fill="#fff" stroke="#000" stroke-width="1.05"/>
<path transform="translate(737.7,410.8)" d="M-4.4,-2.75H4.4L0,2.85Z" fill="#fff" stroke="#000" stroke-width="1.05"/>
<path transform="translate(708.5,411.6)" d="M-4.4,-2.75H4.4L0,2.85Z" fill="#fff" stroke="#000" stroke-width="1.05"/>
<path transform="translate(708.3,412)" d="M-4.4,-2.75H4.4L0,2.85Z" fill="#fff" stroke="#000" stroke-width="1.05"/>
<path transform="translate(457.7,412.9)" d="M-4.4,-2.75H4.4L0,2.85Z" fill="#fff" stroke="#000" stroke-width="1.05"/>
<path transform="translate(708.3,413.5)" d="M-4.4,-2.75H4.4L0,2.85Z" fill="#fff" stroke="#000" stroke-width="1.05"/>
<path transform="translate(432.9,413.7)" d="M-4.4,-2.75H4.4L0,2.85Z" fill="#fff" stroke="#000" stroke-width="1.05"/>
<path transform="translate(611.5,414.6)" d="M-4.4,-2.75H4.4L0,2.85Z" fill="#fff" stroke="#000" stroke-width="1.05"/>
<path transform="translate(439.5,415.1)" d="M-4.4,-2.75H4.4L0,2.85Z" fill="#fff" stroke="#000" stroke-width="1.05"/>
<path transform="translate(446.9,415.7)" d="M-4.4,-2.75H4.4L0,2.85Z" fill="#fff" stroke="#000" stroke-width="1.05"/>
<path transform="translate(477,418.5)" d="M-4.4,-2.75H4.4L0,2.85Z" fill="#fff" stroke="#000" stroke-width="1.05"/>
<path transform="translate(437.4,419.3)" d="M-4.4,-2.75H4.4L0,2.85Z" fill="#fff" stroke="#000" stroke-width="1.05"/>
<path transform="translate(413.2,419.8)" d="M-4.4,-2.75H4.4L0,2.85Z" fill="#fff" stroke="#000" stroke-width="1.05"/>
<path transform="translate(477,420.8)" d="M-4.4,-2.75H4.4L0,2.85Z" fill="#fff" stroke="#000" stroke-width="1.05"/>
<path transform="translate(596.4,420.8)" d="M-4.4,-2.75H4.4L0,2.85Z" fill="#fff" stroke="#000" stroke-width="1.05"/>
<path transform="translate(425.3,421)" d="M-4.4,-2.75H4.4L0,2.85Z" fill="#fff" stroke="#000" stroke-width="1.05"/>
<path transform="translate(465,421)" d="M-4.4,-2.75H4.4L0,2.85Z" fill="#fff" stroke="#000" stroke-width="1.05"/>
<path transform="translate(413.2,422.3)" d="M-4.4,-2.75H4.4L0,2.85Z" fill="#fff" stroke="#000" stroke-width="1.05"/>
<path transform="translate(477,423)" d="M-4.4,-2.75H4.4L0,2.85Z" fill="#fff" stroke="#000" stroke-width="1.05"/>
<path transform="translate(465,423.1)" d="M-4.4,-2.75H4.4L0,2.85Z" fill="#fff" stroke="#000" stroke-width="1.05"/>
<path transform="translate(425.3,423.3)" d="M-4.4,-2.75H4.4L0,2.85Z" fill="#fff" stroke="#000" stroke-width="1.05"/>
<path transform="translate(395.6,424.3)" d="M-4.4,-2.75H4.4L0,2.85Z" fill="#fff" stroke="#000" stroke-width="1.05"/>
<path transform="translate(596.9,425)" d="M-4.4,-2.75H4.4L0,2.85Z" fill="#fff" stroke="#000" stroke-width="1.05"/>
<path transform="translate(395.6,426.8)" d="M-4.4,-2.75H4.4L0,2.85Z" fill="#fff" stroke="#000" stroke-width="1.05"/>
<path transform="translate(596.9,427.9)" d="M-4.4,-2.75H4.4L0,2.85Z" fill="#fff" stroke="#000" stroke-width="1.05"/>
<path transform="translate(395.6,430)" d="M-4.4,-2.75H4.4L0,2.85Z" fill="#fff" stroke="#000" stroke-width="1.05"/>
<path transform="translate(478.7,430.5)" d="M-4.4,-2.75H4.4L0,2.85Z" fill="#fff" stroke="#000" stroke-width="1.05"/>
<path transform="translate(471.8,431.6)" d="M-4.4,-2.75H4.4L0,2.85Z" fill="#fff" stroke="#000" stroke-width="1.05"/>
<path transform="translate(414,431.9)" d="M-4.4,-2.75H4.4L0,2.85Z" fill="#fff" stroke="#000" stroke-width="1.05"/>
<path transform="translate(396.1,434.9)" d="M-4.4,-2.75H4.4L0,2.85Z" fill="#fff" stroke="#000" stroke-width="1.05"/>
<path transform="translate(396.6,441)" d="M-4.4,-2.75H4.4L0,2.85Z" fill="#fff" stroke="#000" stroke-width="1.05"/>
<path transform="translate(396.6,443.5)" d="M-4.4,-2.75H4.4L0,2.85Z" fill="#fff" stroke="#000" stroke-width="1.05"/>
<path transform="translate(489.4,449.7)" d="M-4.4,-2.75H4.4L0,2.85Z" fill="#fff" stroke="#000" stroke-width="1.05"/>
<path transform="translate(490.7,450.1)" d="M-4.4,-2.75H4.4L0,2.85Z" fill="#fff" stroke="#000" stroke-width="1.05"/>
<path transform="translate(513.8,451.5)" d="M-4.4,-2.75H4.4L0,2.85Z" fill="#fff" stroke="#000" stroke-width="1.05"/>
<path transform="translate(507.7,452)" d="M-4.4,-2.75H4.4L0,2.85Z" fill="#fff" stroke="#000" stroke-width="1.05"/>
<path transform="translate(507.7,453.9)" d="M-4.4,-2.75H4.4L0,2.85Z" fill="#fff" stroke="#000" stroke-width="1.05"/>
<path transform="translate(494.9,456)" d="M-4.4,-2.75H4.4L0,2.85Z" fill="#fff" stroke="#000" stroke-width="1.05"/>
<path transform="translate(494.9,459.5)" d="M-4.4,-2.75H4.4L0,2.85Z" fill="#fff" stroke="#000" stroke-width="1.05"/>
<path transform="translate(494.9,462)" d="M-4.4,-2.75H4.4L0,2.85Z" fill="#fff" stroke="#000" stroke-width="1.05"/>
<path transform="translate(377.2,527.5)" d="M-4.4,-2.75H4.4L0,2.85Z" fill="#fff" stroke="#000" stroke-width="1.05"/>
<path transform="translate(377.2,529.8)" d="M-4.4,-2.75H4.4L0,2.85Z" fill="#fff" stroke="#000" stroke-width="1.05"/>
<path transform="translate(302.5,533.5)" d="M-4.4,-2.75H4.4L0,2.85Z" fill="#fff" stroke="#000" stroke-width="1.05"/>
<path transform="translate(368.1,535.4)" d="M-4.4,-2.75H4.4L0,2.85Z" fill="#fff" stroke="#000" stroke-width="1.05"/>
<path transform="translate(304.3,536.3)" d="M-4.4,-2.75H4.4L0,2.85Z" fill="#fff" stroke="#000" stroke-width="1.05"/>
<path transform="translate(331,538)" d="M-4.4,-2.75H4.4L0,2.85Z" fill="#fff" stroke="#000" stroke-width="1.05"/>
<path transform="translate(324.5,538.5)" d="M-4.4,-2.75H4.4L0,2.85Z" fill="#fff" stroke="#000" stroke-width="1.05"/>
<path transform="translate(316.7,539.3)" d="M-4.4,-2.75H4.4L0,2.85Z" fill="#fff" stroke="#000" stroke-width="1.05"/>
<path transform="translate(331.1,539.3)" d="M-4.4,-2.75H4.4L0,2.85Z" fill="#fff" stroke="#000" stroke-width="1.05"/>
<path transform="translate(323.1,541.9)" d="M-4.4,-2.75H4.4L0,2.85Z" fill="#fff" stroke="#000" stroke-width="1.05"/>
<path transform="translate(342.4,543)" d="M-4.4,-2.75H4.4L0,2.85Z" fill="#fff" stroke="#000" stroke-width="1.05"/>
<path transform="translate(349.2,544.6)" d="M-4.4,-2.75H4.4L0,2.85Z" fill="#fff" stroke="#000" stroke-width="1.05"/>
<path transform="translate(343,545)" d="M-4.4,-2.75H4.4L0,2.85Z" fill="#fff" stroke="#000" stroke-width="1.05"/>
<path transform="translate(348,545.5)" d="M-4.4,-2.75H4.4L0,2.85Z" fill="#fff" stroke="#000" stroke-width="1.05"/>
<path transform="translate(342.8,548.3)" d="M-4.4,-2.75H4.4L0,2.85Z" fill="#fff" stroke="#000" stroke-width="1.05"/>
<path transform="translate(342.5,549.5)" d="M-4.4,-2.75H4.4L0,2.85Z" fill="#fff" stroke="#000" stroke-width="1.05"/>
<path transform="translate(284.5,583)" d="M-4.4,-2.75H4.4L0,2.85Z" fill="#fff" stroke="#000" stroke-width="1.05"/>
<path transform="translate(207.2,584)" d="M-4.4,-2.75H4.4L0,2.85Z" fill="#fff" stroke="#000" stroke-width="1.05"/>
<path transform="translate(209.5,588.5)" d="M-4.4,-2.75H4.4L0,2.85Z" fill="#fff" stroke="#000" stroke-width="1.05"/>
<path transform="translate(239.1,588.7)" d="M-4.4,-2.75H4.4L0,2.85Z" fill="#fff" stroke="#000" stroke-width="1.05"/>
<path transform="translate(219,589)" d="M-4.4,-2.75H4.4L0,2.85Z" fill="#fff" stroke="#000" stroke-width="1.05"/>
<path transform="translate(259,589)" d="M-4.4,-2.75H4.4L0,2.85Z" fill="#fff" stroke="#000" stroke-width="1.05"/>
<path transform="translate(222.8,589.1)" d="M-4.4,-2.75H4.4L0,2.85Z" fill="#fff" stroke="#000" stroke-width="1.05"/>
<path transform="translate(261,589.8)" d="M-4.4,-2.75H4.4L0,2.85Z" fill="#fff" stroke="#000" stroke-width="1.05"/>
<path transform="translate(213,590)" d="M-4.4,-2.75H4.4L0,2.85Z" fill="#fff" stroke="#000" stroke-width="1.05"/>
<path transform="translate(257,590)" d="M-4.4,-2.75H4.4L0,2.85Z" fill="#fff" stroke="#000" stroke-width="1.05"/>
<path transform="translate(216.5,590.5)" d="M-4.4,-2.75H4.4L0,2.85Z" fill="#fff" stroke="#000" stroke-width="1.05"/>
<path transform="translate(261.9,590.9)" d="M-4.4,-2.75H4.4L0,2.85Z" fill="#fff" stroke="#000" stroke-width="1.05"/>
<path transform="translate(231.5,591.2)" d="M-4.4,-2.75H4.4L0,2.85Z" fill="#fff" stroke="#000" stroke-width="1.05"/>
<path transform="translate(243.5,591.5)" d="M-4.4,-2.75H4.4L0,2.85Z" fill="#fff" stroke="#000" stroke-width="1.05"/>
<path transform="translate(274.6,591.5)" d="M-4.4,-2.75H4.4L0,2.85Z" fill="#fff" stroke="#000" stroke-width="1.05"/>
<path transform="translate(250.5,592)" d="M-4.4,-2.75H4.4L0,2.85Z" fill="#fff" stroke="#000" stroke-width="1.05"/>
<path transform="translate(246,592.7)" d="M-4.4,-2.75H4.4L0,2.85Z" fill="#fff" stroke="#000" stroke-width="1.05"/>
<path transform="translate(281.2,578.5)" d="M-4.4,2.75H4.4L0,-2.85Z" fill="#c4c4c4" stroke="#000" stroke-width="1.05"/>
<path transform="translate(324.3,532.5)" d="M-4.4,2.75H4.4L0,-2.85Z" fill="#c4c4c4" stroke="#000" stroke-width="1.05"/>
<path transform="translate(385.2,523.8)" d="M-4.4,2.75H4.4L0,-2.85Z" fill="#c4c4c4" stroke="#000" stroke-width="1.05"/>
<path transform="translate(376.7,522.1)" d="M-4.4,2.75H4.4L0,-2.85Z" fill="#c4c4c4" stroke="#000" stroke-width="1.05"/>
<path transform="translate(419.8,407.2)" d="M-4.4,2.75H4.4L0,-2.85Z" fill="#c4c4c4" stroke="#000" stroke-width="1.05"/>
<path transform="translate(427.8,404.7)" d="M-4.4,2.75H4.4L0,-2.85Z" fill="#c4c4c4" stroke="#000" stroke-width="1.05"/>
<path transform="translate(453.7,404.4)" d="M-4.4,2.75H4.4L0,-2.85Z" fill="#c4c4c4" stroke="#000" stroke-width="1.05"/>
<path transform="translate(730,400.3)" d="M-4.4,2.75H4.4L0,-2.85Z" fill="#c4c4c4" stroke="#000" stroke-width="1.05"/>
<path transform="translate(675.1,391.3)" d="M-4.4,2.75H4.4L0,-2.85Z" fill="#c4c4c4" stroke="#000" stroke-width="1.05"/>
<path transform="translate(650.6,387.2)" d="M-4.4,2.75H4.4L0,-2.85Z" fill="#c4c4c4" stroke="#000" stroke-width="1.05"/>
<path transform="translate(659.6,385.5)" d="M-4.4,2.75H4.4L0,-2.85Z" fill="#c4c4c4" stroke="#000" stroke-width="1.05"/>
<path transform="translate(628.9,384.4)" d="M-4.4,2.75H4.4L0,-2.85Z" fill="#c4c4c4" stroke="#000" stroke-width="1.05"/>
<path transform="translate(580.3,382.5)" d="M-4.4,2.75H4.4L0,-2.85Z" fill="#c4c4c4" stroke="#000" stroke-width="1.05"/>
<path transform="translate(535,370.2)" d="M-4.4,2.75H4.4L0,-2.85Z" fill="#c4c4c4" stroke="#000" stroke-width="1.05"/>
<path transform="translate(274.6,593.8)" d="M-4.4,-2.75H4.4L0,2.85Z" fill="#fcd10a" stroke="#000" stroke-width="1.05"/>
<path transform="translate(284.1,585.1)" d="M-4.4,-2.75H4.4L0,2.85Z" fill="#fcd10a" stroke="#000" stroke-width="1.05"/>
<path transform="translate(358.3,542.3)" d="M-4.4,-2.75H4.4L0,2.85Z" fill="#fcd10a" stroke="#000" stroke-width="1.05"/>
<path transform="translate(380.7,533.4)" d="M-4.4,-2.75H4.4L0,2.85Z" fill="#fcd10a" stroke="#000" stroke-width="1.05"/>
<path transform="translate(396.6,446)" d="M-4.4,-2.75H4.4L0,2.85Z" fill="#fcd10a" stroke="#000" stroke-width="1.05"/>
<path transform="translate(410,428.1)" d="M-4.4,-2.75H4.4L0,2.85Z" fill="#fcd10a" stroke="#000" stroke-width="1.05"/>
<path transform="translate(427.3,428.8)" d="M-4.4,-2.75H4.4L0,2.85Z" fill="#fcd10a" stroke="#000" stroke-width="1.05"/>
<path transform="translate(447.2,422.5)" d="M-4.4,-2.75H4.4L0,2.85Z" fill="#fcd10a" stroke="#000" stroke-width="1.05"/>
<path transform="translate(477.2,461.9)" d="M-4.4,-2.75H4.4L0,2.85Z" fill="#fcd10a" stroke="#000" stroke-width="1.05"/>
<path transform="translate(494.5,465.2)" d="M-4.4,-2.75H4.4L0,2.85Z" fill="#fcd10a" stroke="#000" stroke-width="1.05"/>
<path transform="translate(536.1,384)" d="M-4.4,-2.75H4.4L0,2.85Z" fill="#fcd10a" stroke="#000" stroke-width="1.05"/>
<path transform="translate(571.3,405.6)" d="M-4.4,-2.75H4.4L0,2.85Z" fill="#fcd10a" stroke="#000" stroke-width="1.05"/>
<path transform="translate(589.8,402.8)" d="M-4.4,-2.75H4.4L0,2.85Z" fill="#fcd10a" stroke="#000" stroke-width="1.05"/>
<path transform="translate(610.1,423.6)" d="M-4.4,-2.75H4.4L0,2.85Z" fill="#fcd10a" stroke="#000" stroke-width="1.05"/>
<path transform="translate(625.6,402.5)" d="M-4.4,-2.75H4.4L0,2.85Z" fill="#fcd10a" stroke="#000" stroke-width="1.05"/>
<path transform="translate(637.2,412.2)" d="M-4.4,-2.75H4.4L0,2.85Z" fill="#fcd10a" stroke="#000" stroke-width="1.05"/>
<path transform="translate(708.5,416.5)" d="M-4.4,-2.75H4.4L0,2.85Z" fill="#fcd10a" stroke="#000" stroke-width="1.05"/>
<path transform="translate(728.9,410.5)" d="M-4.4,-2.75H4.4L0,2.85Z" fill="#fcd10a" stroke="#000" stroke-width="1.05"/>
<polyline points="348.9,638.7 349.8,644.1 352,646.9 354.5,646.6 355.7,650.9 358.3,649.7 359.9,594 361.4,603.5 363.9,606 366.4,609.7 369,614.2 371.5,624.2 374,628.6 376.5,632.4 377.8,568.8 379,591.5 380.6,592.1 380.7,546.8 382,547.5 383.2,540.5 384.5,530.5 386.4,503.4 387.6,550.6 390.2,550.6 392.7,549.3 393.9,510.3 395.2,555.6 396.4,516.6 398.3,517.2 400.9,524.2 402.7,531.7 405.9,533 407.8,541.8 410.3,548.7 411.6,506.5 413.5,506.5 414.1,517.9 416.6,519.1 417.9,522.9 420.4,522.9 421,485.1 422.9,488.9 425.4,488.9 425.5,479.4 426.2,455.9 427.6,457.3 430.4,425.4 431.8,430.9 433.2,439.3 435.2,440.6 438,444.8 440.8,450.3 442.9,418.5 444.2,453.1 447,461.4 449.1,428.2 450.5,397.7 452.5,399.1 455.7,381.1 458.1,383.9 460.2,388 462.2,396.3 465,376.2 465.7,397.7 467.8,394.9 469.9,401.9 471.9,392.2 473.3,411.6 474.7,393.5 476.8,417.1 478.9,396.3 481.6,401.9 485.1,406 487.9,408.8 492,414.3 495.5,376.9 497.6,392.2 499.6,394.9 503.1,400.5 507.3,408.8 510,414.3 514.2,414.4 516.2,402.6 517.6,413.7 519.7,415.1 523.9,422 528,430.3 532.2,434.5 534.9,438.6 537,395.7 539.1,397.1 540.5,387.4 542.5,402.6 546,406.8 548.8,409.6 551.6,415.1 554.3,420.6 557.1,424.8 557.8,419.3 559.9,428.9 564,433.1 568.2,435.9 570.9,441.4 573,417.9 575.8,420.6 578.6,428.9 580.6,433.1 582,415.1 584.1,417.9 585.9,405.4 587.6,426.2 589.6,409.6 591.7,412.3 594.5,405.4 596.6,398.5 598.6,408.2 600,416.5 604.2,420.6 607,422 609,428.9 611.8,413.7 615.3,413.7 619,419 621.8,419.6 623.2,406.5 625.2,423.1 627.3,406.5 630.1,388.5 632.9,395.4 634.9,395.4 637,388.5 639.8,376 641.2,372.5 642.5,381.6 645.3,384.3 648.8,385.7 651.6,387.1 654.3,364.2 656.4,381.6 658.5,374.6 660.6,364.9 663.3,371.9 666.8,374.6 669.6,377.4 673.7,380.2 676.5,365.6 679.3,369.1 682,370.5 685.5,374.6 689,370.5 691.7,374.6 695.9,377.4 700,380.1 703.6,386 708.3,389.6 709.5,374.2 713,374.2 716.6,377.8 720.1,380.1 722.5,387.2 724.9,371.9 726,387.2 728.4,390.8 730.8,361.3 734.3,361.3 735.5,363.6 737.9,351.8 739,366 741.4,368.3 744.3,371.9" fill="none" stroke="#d4bf48" stroke-opacity="0.85" stroke-width="2" stroke-linejoin="round"/>
<text x="747.3" y="376.2" font-family='"Liberation Sans", sans-serif' font-size="12" fill="#d2bd4e" text-anchor="start">Avg. 0.572</text>
</g>
</svg>
</body></html>
